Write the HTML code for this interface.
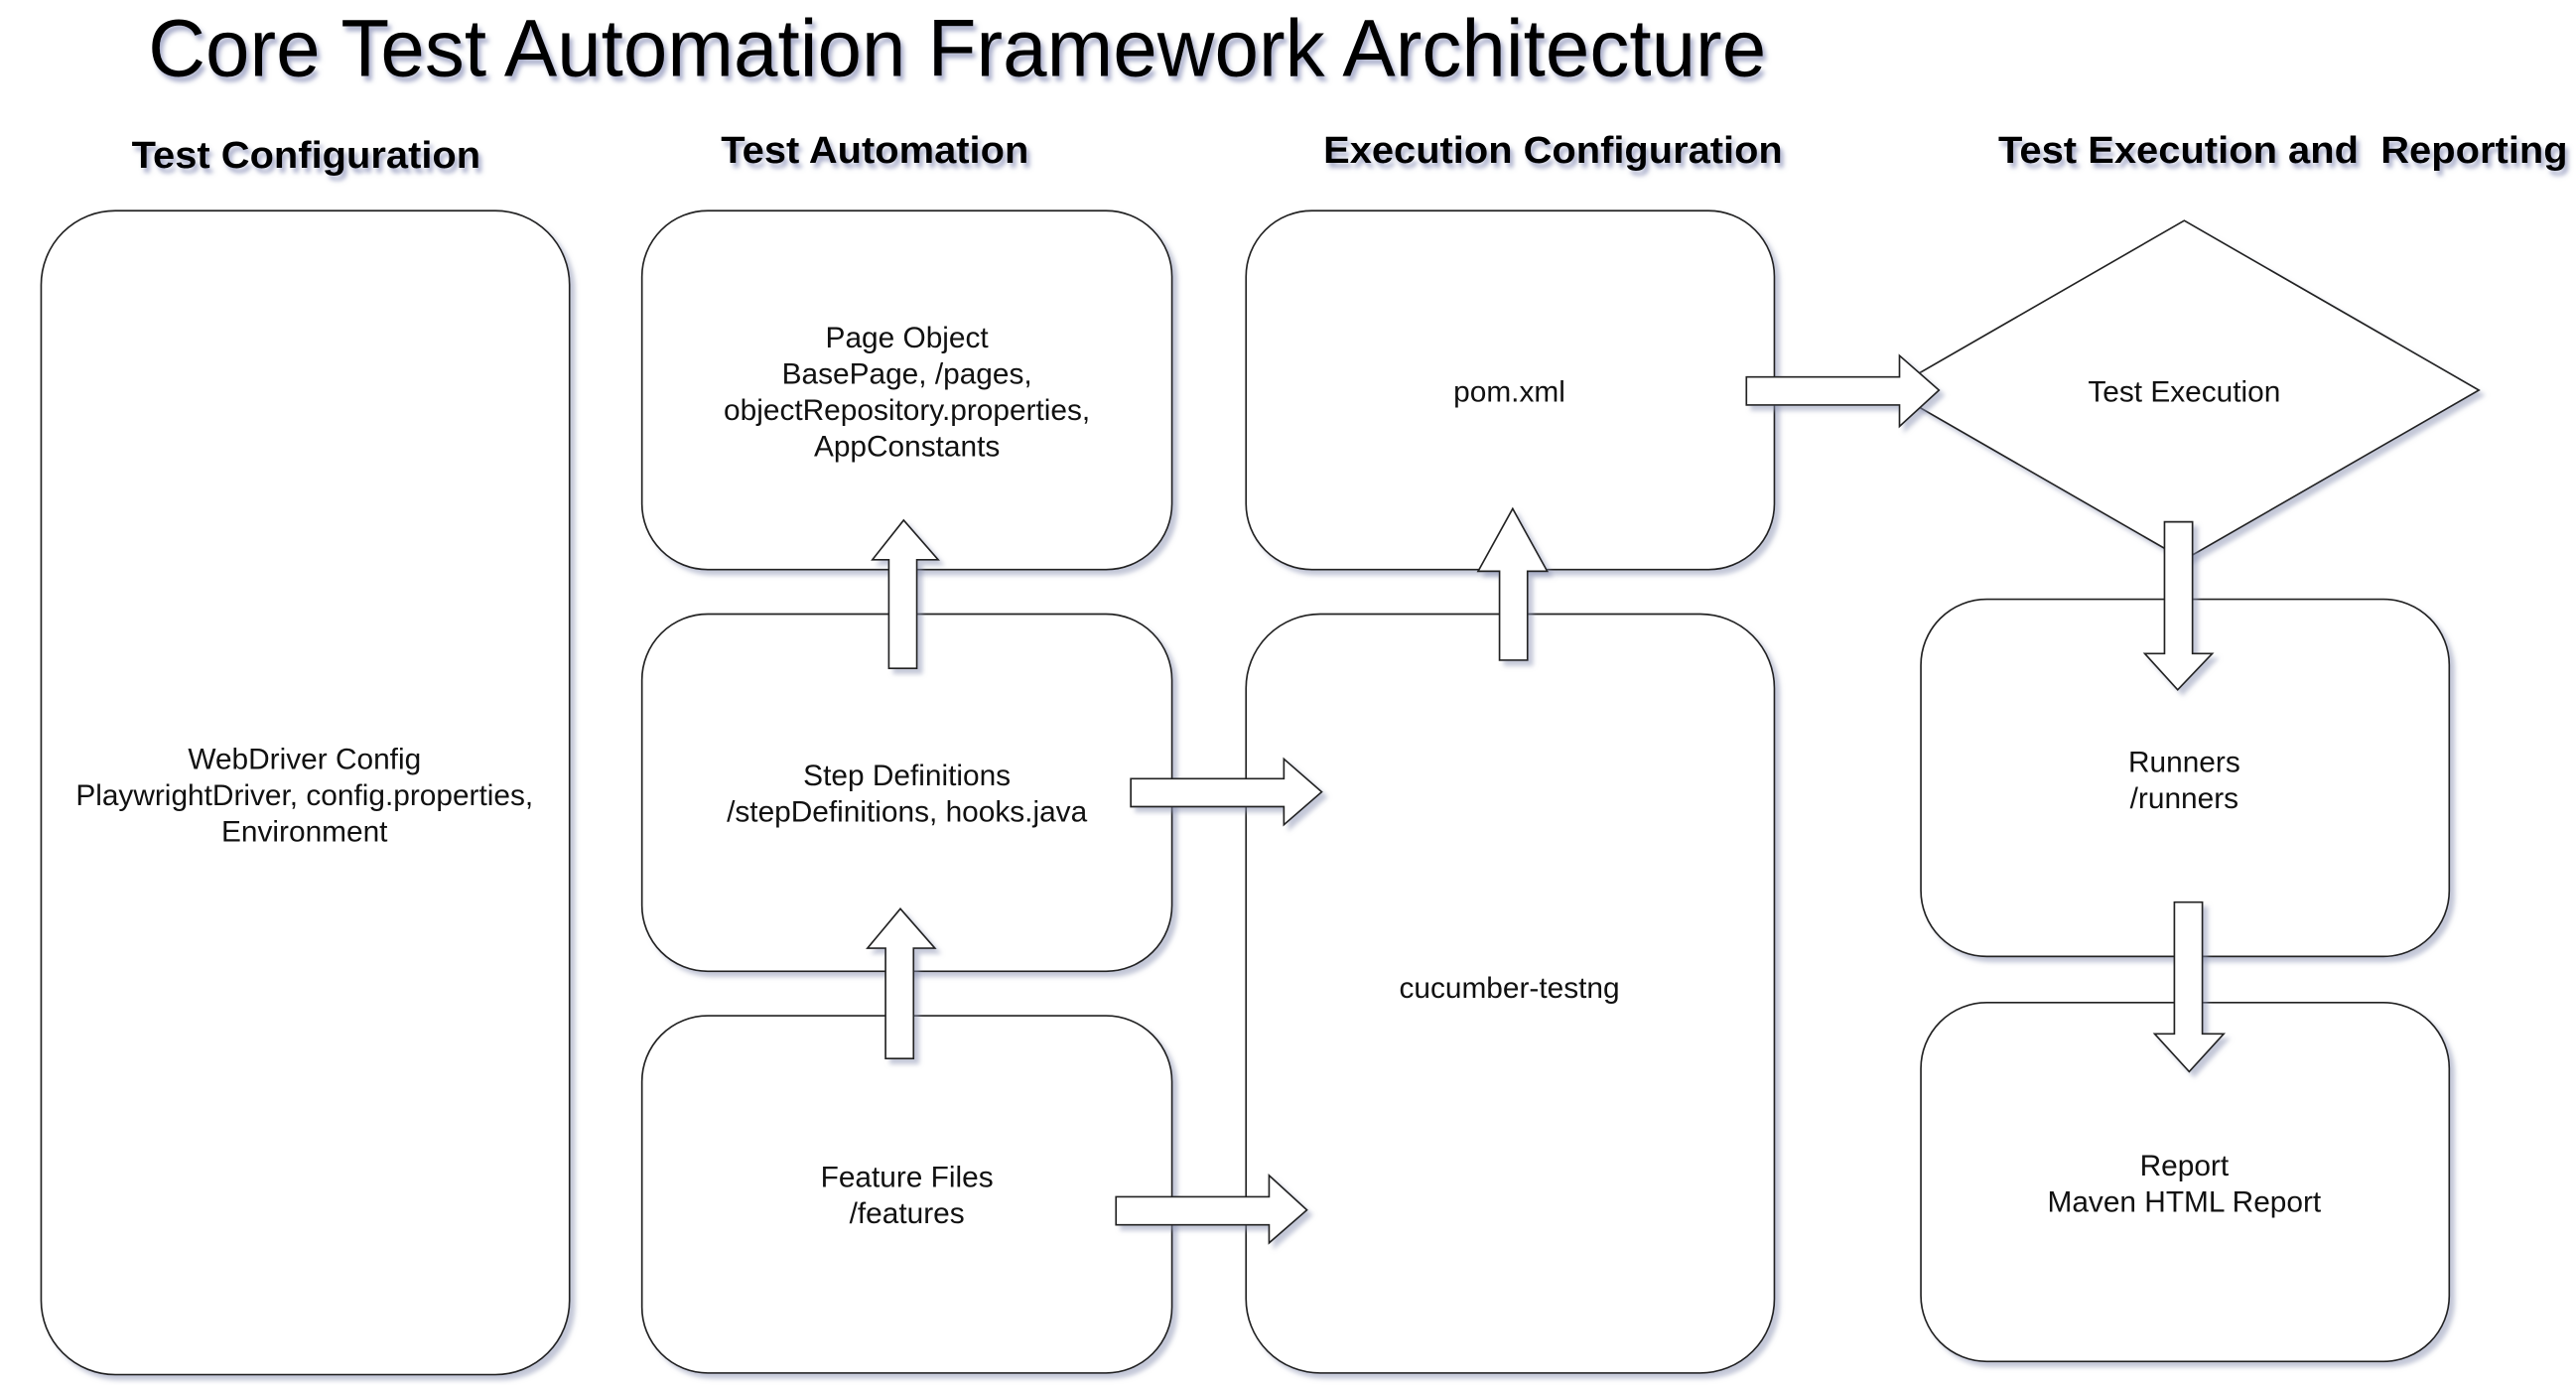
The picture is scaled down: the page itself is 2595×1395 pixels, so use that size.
<!DOCTYPE html>
<html><head><meta charset="utf-8"><style>
html,body{margin:0;padding:0;background:#fff;}
svg{display:block;}
text{font-family:"Liberation Sans",Arial,sans-serif;}
</style></head><body>
<svg width="2595" height="1395" viewBox="0 0 1565 841.3" xmlns="http://www.w3.org/2000/svg">
<defs>
<filter id="sh" x="-10%" y="-10%" width="130%" height="130%">
<feDropShadow dx="3" dy="3" stdDeviation="1.5" flood-color="#8890b0" flood-opacity="0.5"/>
</filter>
<filter id="tsh" x="-5%" y="-20%" width="110%" height="150%">
<feDropShadow dx="2" dy="3" stdDeviation="1.5" flood-color="#7078a8" flood-opacity="0.6"/>
</filter>
</defs>
<rect width="1565" height="842" fill="#fff"/>
<text x="90" y="46" font-size="49" textLength="983" lengthAdjust="spacingAndGlyphs" filter="url(#tsh)">Core Test Automation Framework Architecture</text>
<g font-size="23" font-weight="bold" filter="url(#tsh)">
<text x="80" y="102" textLength="212" lengthAdjust="spacingAndGlyphs">Test Configuration</text>
<text x="438" y="99" textLength="187" lengthAdjust="spacingAndGlyphs">Test Automation</text>
<text x="804" y="99" textLength="279" lengthAdjust="spacingAndGlyphs">Execution Configuration</text>
<text x="1214" y="99" textLength="346" lengthAdjust="spacingAndGlyphs" xml:space="preserve">Test Execution and  Reporting</text>
</g>
<g fill="#fff" stroke="#222" stroke-width="1" filter="url(#sh)">
<rect x="25" y="128" width="321" height="707" rx="45"/>
<rect x="390" y="128" width="322" height="218" rx="40"/>
<rect x="390" y="373" width="322" height="217" rx="40"/>
<rect x="390" y="617" width="322" height="217" rx="40"/>
<rect x="757" y="128" width="321" height="218" rx="40"/>
<rect x="757" y="373" width="321" height="461" rx="45"/>
<polygon points="1327,134 1506,237 1327,340 1148,237"/>
<rect x="1167" y="364" width="321" height="217" rx="40"/>
<rect x="1167" y="609" width="321" height="218" rx="40"/>
</g>
<g fill="#fff" stroke="#222" stroke-width="1" filter="url(#sh)">
<polygon points="540,406 540,340 530,340 549,316 570,340 557,340 557,406"/>
<polygon points="538,643 538,576 527,576 547,552 568,576 555,576 555,643"/>
<polygon points="911,401 911,347 898,347 919,309 940,347 928,347 928,401"/>
<polygon points="1061,229 1154,229 1154,216 1178,237 1154,259 1154,246 1061,246"/>
<polygon points="687,473 780,473 780,461 803,481 780,501 780,490 687,490"/>
<polygon points="678,727 771,727 771,714 794,735 771,755 771,744 678,744"/>
<polygon points="1315,317 1332,317 1332,397 1344,397 1323,419 1303,397 1315,397"/>
<polygon points="1321,548 1338,548 1338,628 1351,628 1330,651 1309,628 1321,628"/>
</g>
<g font-size="18" text-anchor="middle" fill="#111">
<text x="185" y="467">WebDriver Config</text>
<text x="185" y="489">PlaywrightDriver, config.properties,</text>
<text x="185" y="511">Environment</text>
<text x="551" y="211">Page Object</text>
<text x="551" y="233">BasePage, /pages,</text>
<text x="551" y="255">objectRepository.properties,</text>
<text x="551" y="277">AppConstants</text>
<text x="551" y="477">Step Definitions</text>
<text x="551" y="499">/stepDefinitions, hooks.java</text>
<text x="551" y="721">Feature Files</text>
<text x="551" y="743">/features</text>
<text x="917" y="244">pom.xml</text>
<text x="917" y="606">cucumber-testng</text>
<text x="1327" y="244">Test Execution</text>
<text x="1327" y="469">Runners</text>
<text x="1327" y="491">/runners</text>
<text x="1327" y="714">Report</text>
<text x="1327" y="736">Maven HTML Report</text>
</g>
</svg>
</body></html>
